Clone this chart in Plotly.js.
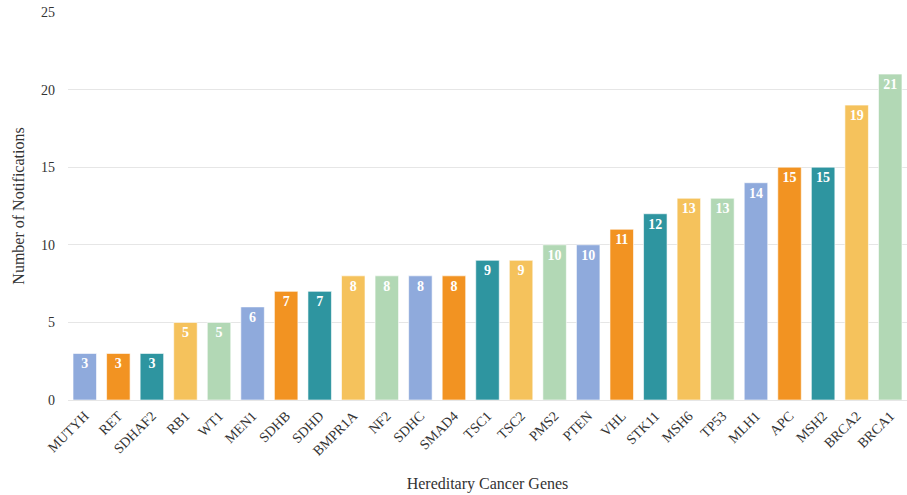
<!DOCTYPE html>
<html><head><meta charset="utf-8">
<script src="https://cdn.plot.ly/plotly-3.0.1.min.js"></script>
<style>html,body{margin:0;padding:0;background:#fff}</style>
</head><body><div id="chart" style="width:907px;height:495px"></div>
<script>
const genes = ["MUTYH","RET","SDHAF2","RB1","WT1","MEN1","SDHB","SDHD","BMPR1A","NF2","SDHC","SMAD4","TSC1","TSC2","PMS2","PTEN","VHL","STK11","MSH6","TP53","MLH1","APC","MSH2","BRCA2","BRCA1"];
const notifications = [3,3,3,5,5,6,7,7,8,8,8,8,9,9,10,10,11,12,13,13,14,15,15,19,21];
const palette = ["#8FAADC","#F29322","#2E95A0","#F5C25C","#B2D8B5"];
const barColors = genes.map((g,i)=>palette[i%palette.length]);
const trace = {
  type:"bar", x:genes, y:notifications,
  marker:{color:barColors, line:{color:"rgba(255,255,255,0.6)", width:1}},
  text:notifications.map(String), textposition:"inside", insidetextanchor:"end",
  textfont:{family:"Liberation Serif", size:14, color:"#ffffff", weight:"bold"},
  textangle:0, width:0.7, hoverinfo:"x+y"
};
const layout = {
  margin:{l:68,r:0,t:12,b:95},
  paper_bgcolor:"#fff", plot_bgcolor:"#fff",
  font:{family:"Liberation Serif", color:"#333"},
  showlegend:false,
  xaxis:{tickangle:-45, tickfont:{family:"Liberation Serif",size:14,color:"#333"}, showgrid:false, showline:false, ticks:"", ticklabelstandoff:4,
    title:{text:"Hereditary Cancer Genes", font:{family:"Liberation Serif",size:16,color:"#333"}, standoff:20}},
  yaxis:{range:[0,25], dtick:5, tickfont:{family:"Liberation Serif",size:14,color:"#333"}, gridcolor:"#e6e6e6", zeroline:true, zerolinecolor:"#e6e6e6", showline:false, ticks:"", ticklen:0, ticklabelstandoff:12,
    title:{text:"Number of Notifications", font:{family:"Liberation Serif",size:16,color:"#333"}, standoff:12}}
};
Plotly.newPlot("chart",[trace],layout,{displayModeBar:false});
</script></body></html>
